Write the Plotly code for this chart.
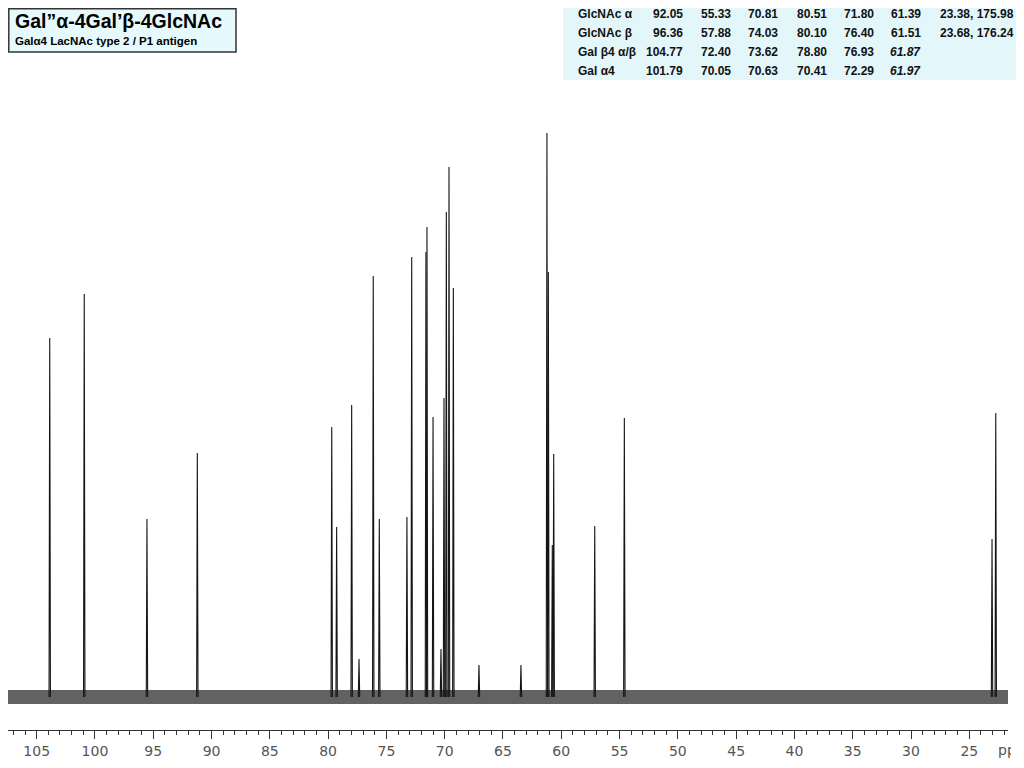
import plotly.graph_objects as go

# ---- spectrum data ----
peak_ppm = [103.88, 100.92, 95.54, 91.22, 79.69, 79.27, 77.98, 77.35, 76.13, 75.61,
            73.24, 72.83, 71.61, 71.52, 71.00, 70.32, 70.06, 69.86, 69.63, 69.26,
            67.06, 63.46, 61.23, 61.11, 60.77, 60.65, 57.13, 54.59, 23.05, 22.73]
peak_height = [359, 403, 178, 244, 270, 170, 292, 38, 421, 178,
               180, 440, 445, 470, 280, 48, 299, 485, 530, 409,
               32, 32, 564, 425, 152, 243, 171, 279, 158, 284]

tick_vals = [105, 100, 95, 90, 85, 80, 75, 70, 65, 60, 55, 50, 45, 40, 35, 30, 25]
tick_text = ["105", "100", "95", "90", "85", "80", "75", "70", "65", "60", "55",
             "50", "45", "40", "35", "30", "25"]

title_main = "Gal\u201d\u03b1-4Gal\u2019\u03b2-4GlcNAc"
title_sub = "Gal\u03b14 LacNAc type 2 / P1 antigen"

row_names = ["GlcNAc \u03b1", "GlcNAc \u03b2", "Gal \u03b24 \u03b1/\u03b2", "Gal \u03b14"]
col1 = ["92.05", "96.36", "104.77", "101.79"]
col2 = ["55.33", "57.88", "72.40", "70.05"]
col3 = ["70.81", "74.03", "73.62", "70.63"]
col4 = ["80.51", "80.10", "78.80", "70.41"]
col5 = ["71.80", "76.40", "76.93", "72.29"]
col6 = ["61.39", "61.51", "61.87", "61.97"]
col6_italic = [False, False, True, True]
col7 = ["23.38, 175.98", "23.68, 176.24", "", ""]

# ---- layout geometry ----
# page has an 8px body margin, so the figure starts at page (8, 8)
OFF = 8
W, H = 1024 - OFF, 768 - OFF
# plot area in page pixels
PL, PR, PT, PB = 8, 1008, 100, 730
x_range = [107.46, 21.68]
y_range = [-33, 597]


def px(x):
    return (x - PL) / (PR - PL)


def py(y):
    return (PB - y) / (PB - PT)


# build stick spectrum from peak list
hw = 0.06
xs, ys = [], []
for p, h in zip(peak_ppm, peak_height):
    xs += [p + hw, p, p - hw, None]
    ys += [0, h, 0, None]

fig = go.Figure()
# noisy baseline band
fig.add_trace(go.Scatter(x=[x_range[0], x_range[1]], y=[0, 0], mode="lines",
                         line=dict(color="#626262", width=14), hoverinfo="skip"))
fig.add_trace(go.Scatter(x=xs, y=ys, mode="lines",
                         line=dict(color="#151515", width=1.1), hoverinfo="skip"))

font_b = "Liberation Sans, Arial, sans-serif"
ann = []
shapes = []

# title box
shapes.append(dict(type="rect", xref="paper", yref="paper",
                   x0=px(OFF + 0.8), x1=px(236), y0=py(52), y1=py(OFF + 0.8),
                   line=dict(color="#333333", width=1.5), fillcolor="#e6f9fd", layer="above"))
ann.append(dict(text="<b>" + title_main + "</b>", xref="paper", yref="paper",
                x=px(13), y=py(21), xanchor="left", yanchor="middle", showarrow=False,
                font=dict(family=font_b, size=19.5, color="#000")))
ann.append(dict(text="<b>" + title_sub + "</b>", xref="paper", yref="paper",
                x=px(13), y=py(41), xanchor="left", yanchor="middle", showarrow=False,
                font=dict(family=font_b, size=11.5, color="#000")))

# table
shapes.append(dict(type="rect", xref="paper", yref="paper",
                   x0=px(563), x1=px(1020), y0=py(80), y1=py(OFF),
                   line=dict(width=0), fillcolor="#e3f6fa", layer="below"))
row_y = [14, 33, 52, 71]
col_right = [685, 733, 780, 828.5, 876, 923]
cols = [col1, col2, col3, col4, col5, col6]
tf = dict(family=font_b, size=12, color="#111")
for i, ry in enumerate(row_y):
    ann.append(dict(text="<b>" + row_names[i] + "</b>", xref="paper", yref="paper",
                    x=px(576), y=py(ry), xanchor="left", yanchor="middle",
                    showarrow=False, font=tf))
    for j, c in enumerate(cols):
        t = "<b>" + c[i] + "</b>"
        if j == 5 and col6_italic[i]:
            t = "<b><i>" + c[i] + "</i></b>"
        ann.append(dict(text=t, xref="paper", yref="paper",
                        x=px(col_right[j]), y=py(ry), xanchor="right", yanchor="middle",
                        showarrow=False, font=tf))
    if col7[i]:
        ann.append(dict(text="<b>" + col7[i] + "</b>", xref="paper", yref="paper",
                        x=px(938), y=py(ry), xanchor="left", yanchor="middle",
                        showarrow=False, font=tf))

# ppm axis label (clipped at right edge as in the reference)
ann.append(dict(text="ppm", xref="paper", yref="paper", x=px(996), y=py(750),
                xanchor="left", yanchor="middle", showarrow=False, width=13, align="left",
                font=dict(family="DejaVu Sans, sans-serif", size=14, color="#555")))

fig.update_layout(
    width=W, height=H,
    margin=dict(l=PL - OFF, r=(1024 - PR), t=PT - OFF, b=768 - PB, pad=0),
    paper_bgcolor="white", plot_bgcolor="white",
    showlegend=False,
    annotations=ann, shapes=shapes,
    xaxis=dict(range=x_range, showgrid=False, zeroline=False,
               showline=True, linecolor="#333", linewidth=1,
               ticks="outside", ticklen=8, tickwidth=1, tickcolor="#333",
               tickmode="array", tickvals=tick_vals, ticktext=tick_text,
               tickfont=dict(family="DejaVu Sans, sans-serif", size=14, color="#555"),
               minor=dict(tickmode="linear", tick0=0, dtick=1, ticks="outside",
                          ticklen=4, tickcolor="#333", showgrid=False)),
    yaxis=dict(range=y_range, visible=False, showgrid=False, zeroline=False),
)

fig.write_html("out.html")
